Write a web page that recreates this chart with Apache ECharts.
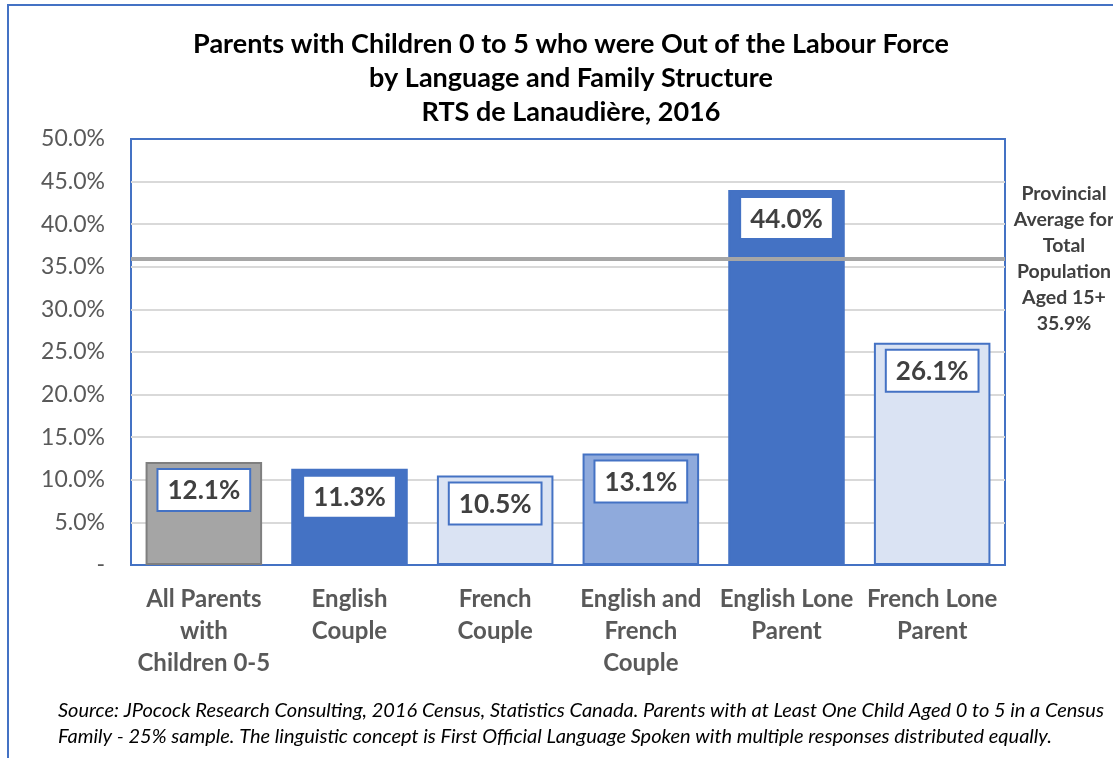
<!DOCTYPE html>
<html>
<head>
<meta charset="utf-8">
<script src="https://cdn.jsdelivr.net/npm/echarts@6/dist/echarts.min.js"></script>
<style>
html,body{margin:0;padding:0;background:#fff;}
#chart{width:1113px;height:758px;}
</style>
</head>
<body>
<div id="chart"></div>
<script>
const categories = ["All Parents\nwith\nChildren 0-5", "English\nCouple", "French\nCouple", "English and\nFrench\nCouple", "English Lone\nParent", "French Lone\nParent"];
const values = [12.1, 11.3, 10.5, 13.1, 44.0, 26.1];
const provincialAverage = 35.9;
const yTicks = [0, 5, 10, 15, 20, 25, 30, 35, 40, 45, 50];

const fills = ['#A5A5A5', '#4472C4', '#DAE3F3', '#8FAADC', '#4472C4', '#DAE3F3'];
const borders = ['#7F7F7F', '#4472C4', '#4472C4', '#4472C4', '#4472C4', '#4472C4'];

const FONT = 'Lato, "Open Sans", sans-serif';
const chart = echarts.init(document.getElementById('chart'));

chart.setOption({
  backgroundColor: '#fff',
  animation: false,
  title: {
    text: 'Parents with Children 0 to 5 who were Out of the Labour Force\nby Language and Family Structure\nRTS de Lanaudière, 2016',
    left: 566, top: 22, textAlign: 'center',
    textStyle: { fontFamily: FONT, fontSize: 27, fontWeight: 'bold', color: '#000', lineHeight: 34 }
  },
  grid: { left: 131, right: 108, top: 139, bottom: 193, show: true, borderColor: '#4472C4', borderWidth: 2, backgroundColor: 'transparent' },
  xAxis: {
    type: 'category', data: categories,
    axisLine: { show: false }, axisTick: { show: false },
    axisLabel: { interval: 0, margin: 18, fontFamily: FONT, fontSize: 24, fontWeight: 'bold', color: '#595959', lineHeight: 32, verticalAlign: 'top' }
  },
  yAxis: {
    type: 'value', min: yTicks[0], max: yTicks[yTicks.length - 1], interval: 5,
    axisLine: { show: false }, axisTick: { show: false },
    splitLine: { showMinLine: false, showMaxLine: false, lineStyle: { color: '#D9D9D9', width: 2 } },
    axisLabel: { margin: 26, fontFamily: FONT, fontSize: 23, color: '#595959', formatter: v => v === 0 ? '-' : v.toFixed(1) + '%' }
  },
  series: [{
    type: 'bar',
    barCategoryGap: '20%',
    data: values.map((v, i) => ({ value: v, itemStyle: { color: fills[i], borderColor: borders[i], borderWidth: 2 } })),
    label: {
      show: true, position: 'insideTop', distance: 8,
      formatter: p => p.value.toFixed(1) + '%',
      backgroundColor: '#fff', borderColor: '#4472C4', borderWidth: 2,
      padding: [8, 9, 6, 9],
      fontFamily: FONT, fontSize: 26, fontWeight: 'bold', color: '#404040'
    },
    markLine: {
      silent: true, symbol: 'none',
      lineStyle: { color: '#A6A6A6', width: 4, type: 'solid' },
      label: { show: false },
      data: [{ yAxis: provincialAverage }]
    },
    z: 2
  }],
  graphic: [
    { type: 'rect', shape: { x: 8, y: 5, width: 1200, height: 760 }, style: { fill: 'none', stroke: '#4472C4', lineWidth: 2 }, silent: true },
    { type: 'text', x: 1064, y: 181, style: {
        text: 'Provincial\nAverage for\nTotal\nPopulation\nAged 15+\n' + provincialAverage.toFixed(1) + '%',
        textAlign: 'center', fontFamily: FONT, fontSize: 19.5, fontWeight: 'bold', fill: '#404040', lineHeight: 26 } },
    { type: 'text', left: 58, top: 698, style: {
        text: 'Source: JPocock Research Consulting, 2016 Census, Statistics Canada. Parents with at Least One Child Aged 0 to 5 in a Census\nFamily - 25% sample. The linguistic concept is First Official Language Spoken with multiple responses distributed equally.',
        fontFamily: FONT, fontSize: 20, fontStyle: 'italic', fill: '#000', lineHeight: 26 } }
  ]
});
</script>
</body>
</html>
